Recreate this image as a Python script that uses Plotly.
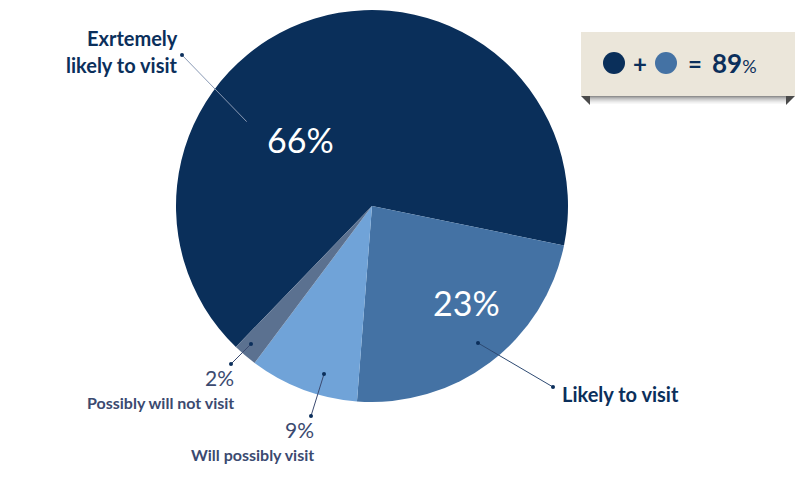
import plotly.graph_objects as go

# Data
categories = ["Extremely likely to visit", "Likely to visit", "Will possibly visit", "Possibly will not visit"]
values = [66, 23, 9, 2]
colors = ["#0a2f5a", "#4472a4", "#70a3d8", "#5b7190"]
combined_label = "89"

W, H = 800, 493


def px(x, y):
    return x / W, 1 - y / H


fig = go.Figure()
fig.add_trace(go.Pie(
    labels=categories,
    values=values,
    sort=False,
    direction="clockwise",
    rotation=224,
    marker=dict(colors=colors, line=dict(width=0)),
    textinfo="none",
    hoverinfo="label+percent",
    showlegend=False,
    domain=dict(x=[176 / W, 568 / W], y=[1 - 402 / H, 1 - 10 / H]),
))

ann = []
shapes = []
NAVY = "#0b2f5b"
GREYNAVY = "#3b4a70"
FONT = "Lato"


def text(x, y, t, size, color, bold=False, xanchor="center", yanchor="middle", family=FONT):
    X, Y = px(x, y)
    ann.append(dict(x=X, y=Y, xref="paper", yref="paper", text=("<b>%s</b>" % t) if bold else t,
                    showarrow=False, xanchor=xanchor, yanchor=yanchor, borderpad=0,
                    font=dict(family=family, size=size, color=color)))


def leader(x0, y0, x1, y1, color):
    X0, Y0 = px(x0, y0)
    X1, Y1 = px(x1, y1)
    shapes.append(dict(type="line", xref="paper", yref="paper", x0=X0, y0=Y0, x1=X1, y1=Y1,
                       line=dict(color=color, width=1)))
    for (xx, yy) in [(x0, y0), (x1, y1)]:
        a, b = px(xx - 2, yy - 2)
        c, d = px(xx + 2, yy + 2)
        shapes.append(dict(type="circle", xref="paper", yref="paper", x0=a, y0=b, x1=c, y1=d,
                           fillcolor=NAVY, line=dict(width=0)))


# percent labels inside
text(300, 139, "%d%%" % values[0], 34, "white")
text(466, 302, "%d%%" % values[1], 34, "white")

# outside labels
text(179, 51, "Exrtemely", 20, NAVY, bold=True, xanchor="right", yanchor="bottom")
text(179, 52, "likely to visit", 20, NAVY, bold=True, xanchor="right", yanchor="top")
leader(182, 55, 248, 123, "#8a9ab5")

text(561, 394, "Likely to visit", 20, NAVY, bold=True, xanchor="left")
leader(478, 343, 553, 387, "#2e4a72")

text(235, 391, "%d%%" % values[3], 21, GREYNAVY, xanchor="right", yanchor="bottom")
text(235, 392, "Possibly will not visit", 16, GREYNAVY, bold=True, xanchor="right", yanchor="top")
leader(251, 344, 231, 364, GREYNAVY)

text(315, 443, "%d%%" % values[2], 21, GREYNAVY, xanchor="right", yanchor="bottom")
text(315, 444, "Will possibly visit", 16, GREYNAVY, bold=True, xanchor="right", yanchor="top")
leader(324, 374, 311, 416, GREYNAVY)

# summary box
a, b = px(581, 32)
c, d = px(795, 96)
shapes.append(dict(type="rect", xref="paper", yref="paper", x0=a, y0=d, x1=c, y1=b,
                   fillcolor="#ebe6da", line=dict(width=0), layer="below"))
# ribbon shadow
for i, col in enumerate(["#8f8f8f", "#a9a9a9", "#bdbdbd", "#cdcdcd", "#dadada", "#e6e6e6", "#f0f0f0", "#f7f7f7"]):
    a, b = px(590, 96 + i)
    c, d = px(786, 97 + i)
    shapes.append(dict(type="rect", xref="paper", yref="paper", x0=a, y0=d, x1=c, y1=b,
                       fillcolor=col, line=dict(width=0), layer="below"))


def tri(pts, col):
    path = "M " + " L ".join("%f,%f" % px(x, y) for x, y in pts) + " Z"
    shapes.append(dict(type="path", xref="paper", yref="paper", path=path,
                       fillcolor=col, line=dict(width=0), layer="below"))


tri([(581, 96), (590, 96), (590, 105)], "#4a4a4a")
tri([(786, 96), (795, 96), (786, 105)], "#4a4a4a")

for cx, col in [(614, colors[0]), (666, colors[1])]:
    a, b = px(cx - 11, 63 - 11)
    c, d = px(cx + 11, 63 + 11)
    shapes.append(dict(type="circle", xref="paper", yref="paper", x0=a, y0=d, x1=c, y1=b,
                       fillcolor=col, line=dict(width=0)))
text(640, 63, "+", 24, NAVY, bold=True)
text(695, 63, "=", 24, NAVY, bold=True)
text(711, 63, "<b>%s</b><span style='font-size:18px'>%%</span>" % combined_label, 26, NAVY, xanchor="left")

fig.update_layout(
    width=W, height=H,
    margin=dict(l=0, r=0, t=0, b=0),
    paper_bgcolor="white", plot_bgcolor="white",
    annotations=ann, shapes=shapes,
)
fig.write_html("out.html", config={"displayModeBar": False},
               post_script="document.body.style.margin='0';document.body.style.overflow='hidden';")
